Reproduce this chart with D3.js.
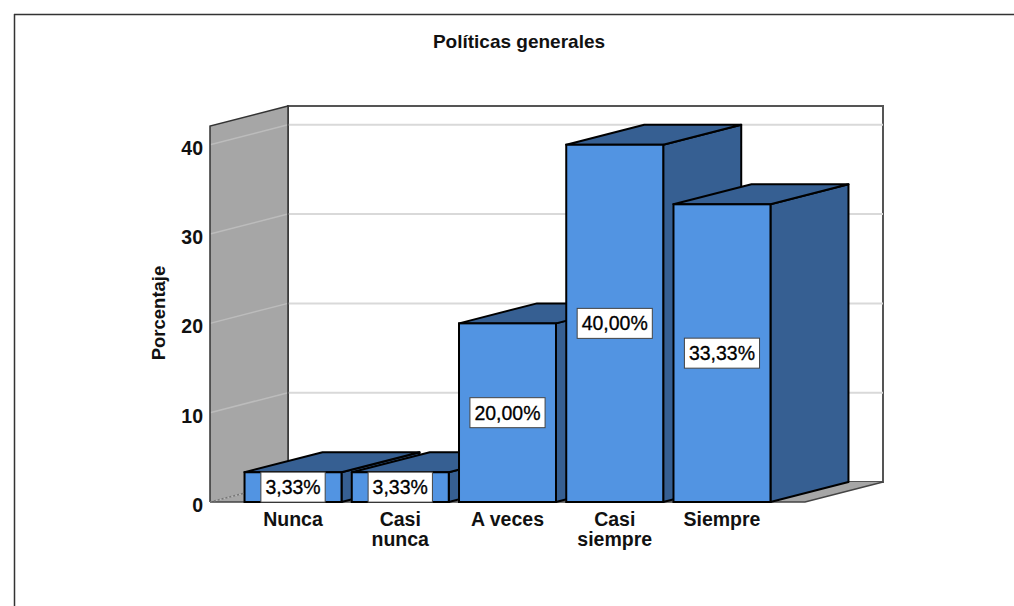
<!DOCTYPE html>
<html>
<head>
<meta charset="utf-8">
<script src="https://cdn.jsdelivr.net/npm/d3@7"></script>
<style>
  html, body { margin: 0; padding: 0; background: #fff; }
  svg { display: block; font-family: "Liberation Sans", Arial, sans-serif; }
</style>
</head>
<body>
<svg id="chart" width="1014" height="606"></svg>
<script>
// Frequencies for "Políticas generales" (percent of respondents)
const categories = ["Nunca", "Casi nunca", "A veces", "Casi siempre", "Siempre"];
const categoryLines = [["Nunca"], ["Casi", "nunca"], ["A veces"], ["Casi", "siempre"], ["Siempre"]];
const percentages = [3.33, 3.33, 20.00, 40.00, 33.33];
const valueLabels = ["3,33%", "3,33%", "20,00%", "40,00%", "33,33%"];
const yTicks = [0, 10, 20, 30, 40];
const chartTitle = "Políticas generales";
const yTitle = "Porcentaje";

const svg = d3.select("#chart");

// Plot geometry: front plane plus an oblique depth offset
const frontLeft = 210, frontRight = 805, baseY = 502, topY = 126;
const depthX = 78, depthY = -20;

const x = d3.scaleBand()
  .domain(categories)
  .range([frontLeft, frontRight])
  .paddingInner(0.0956)
  .paddingOuter(0.322);

const y = d3.scaleLinear()
  .domain([0, 42.1])
  .range([baseY, topY]);

const frontColor = "#5294e2";
const darkColor = "#365f92";
const wallGray = "#a6a6a6";

// Outer frame
svg.append("line").attr("x1", 14).attr("y1", 14.5).attr("x2", 1014).attr("y2", 14.5)
  .attr("stroke", "#333").attr("stroke-width", 1.5);
svg.append("line").attr("x1", 14.5).attr("y1", 14).attr("x2", 14.5).attr("y2", 606)
  .attr("stroke", "#333").attr("stroke-width", 1.5);

// Title
svg.append("text")
  .attr("x", 519).attr("y", 48)
  .attr("text-anchor", "middle")
  .attr("font-size", 19).attr("font-weight", "bold").attr("fill", "#111")
  .text(chartTitle);

const line = d3.line();
const yMax = y.domain()[1];

// Back wall
const bx0 = frontLeft + depthX, bx1 = frontRight + depthX;
svg.append("rect")
  .attr("x", bx0).attr("y", y(yMax) + depthY)
  .attr("width", bx1 - bx0).attr("height", y(0) - y(yMax))
  .attr("fill", "#fff").attr("stroke", "#555").attr("stroke-width", 2);

// Gridlines on the back wall
svg.append("g").selectAll("line")
  .data(yTicks.filter(t => t > 0))
  .join("line")
  .attr("x1", bx0).attr("x2", bx1)
  .attr("y1", d => y(d) + depthY).attr("y2", d => y(d) + depthY)
  .attr("stroke", "#d9d9d9").attr("stroke-width", 2);

// Left wall
const wallPts = [[frontLeft, y(0)], [frontLeft, y(yMax)], [bx0, y(yMax) + depthY], [bx0, y(0) + depthY]];
svg.append("path")
  .attr("d", line(wallPts) + "Z")
  .attr("fill", wallGray).attr("stroke", "none");

// Gridlines on the left wall
svg.append("g").selectAll("line")
  .data(yTicks.filter(t => t > 0))
  .join("line")
  .attr("x1", frontLeft).attr("x2", bx0)
  .attr("y1", d => y(d)).attr("y2", d => y(d) + depthY)
  .attr("stroke", "#bcbcbc").attr("stroke-width", 1.5);

svg.append("path")
  .attr("d", line(wallPts))
  .attr("fill", "none").attr("stroke", "#333").attr("stroke-width", 1.5);

// Floor
svg.append("path")
  .attr("d", line([[frontLeft, y(0)], [bx0, y(0) + depthY], [bx1, y(0) + depthY], [frontRight, y(0)]]) + "Z")
  .attr("fill", wallGray).attr("stroke", "none");
svg.append("path")
  .attr("d", line([[bx1, y(0) + depthY], [frontRight, y(0)], [frontLeft, y(0)]]))
  .attr("fill", "none").attr("stroke", "#444").attr("stroke-width", 1.5);
svg.append("line")
  .attr("x1", frontLeft).attr("y1", y(0)).attr("x2", bx0).attr("y2", y(0) + depthY)
  .attr("stroke", "#777").attr("stroke-width", 1.5).attr("stroke-dasharray", "2,2");

// Y tick labels
svg.append("g").selectAll("text")
  .data(yTicks)
  .join("text")
  .attr("x", 203).attr("y", d => y(d) + 3)
  .attr("dy", "0.36em")
  .attr("text-anchor", "end")
  .attr("font-size", 19.5).attr("font-weight", "bold").attr("fill", "#111")
  .text(d => d);

// Y axis title
svg.append("text")
  .attr("transform", "translate(165,313) rotate(-90)")
  .attr("text-anchor", "middle")
  .attr("font-size", 18.5).attr("font-weight", "bold").attr("fill", "#111")
  .text(yTitle);

// Bars: side, top and front faces, drawn left to right
const bars = svg.append("g");
categories.forEach((c, i) => {
  const x0 = x(c), x1 = x(c) + x.bandwidth();
  const yt = y(percentages[i]), yb = y(0);
  const g = bars.append("g");
  g.append("path")
    .attr("d", line([[x1, yb], [x1, yt], [x1 + depthX, yt + depthY], [x1 + depthX, yb + depthY]]) + "Z")
    .attr("fill", darkColor).attr("stroke", "#000").attr("stroke-width", 2).attr("stroke-linejoin", "round");
  g.append("path")
    .attr("d", line([[x0, yt], [x0 + depthX, yt + depthY], [x1 + depthX, yt + depthY], [x1, yt]]) + "Z")
    .attr("fill", darkColor).attr("stroke", "#000").attr("stroke-width", 2).attr("stroke-linejoin", "round");
  g.append("rect")
    .attr("x", x0).attr("y", yt)
    .attr("width", x1 - x0).attr("height", yb - yt)
    .attr("fill", frontColor).attr("stroke", "#000").attr("stroke-width", 2);
});

// Value labels in boxes centred on each front face
const labels = svg.append("g");
categories.forEach((c, i) => {
  const cx = x(c) + x.bandwidth() / 2;
  const cy = (y(percentages[i]) + y(0)) / 2;
  const g = labels.append("g");
  const box = g.append("rect");
  const t = g.append("text")
    .attr("x", cx).attr("y", cy)
    .attr("dy", "0.36em")
    .attr("text-anchor", "middle")
    .attr("font-size", 19.5).attr("fill", "#000")
    .attr("stroke", "#000").attr("stroke-width", 0.3)
    .text(valueLabels[i]);
  const w = t.node().getComputedTextLength() + 9;
  const h = 30;
  box.attr("x", cx - w / 2).attr("y", cy - h / 2)
    .attr("width", w).attr("height", h)
    .attr("fill", "#fff").attr("stroke", "#444").attr("stroke-width", 1);
});

// Category labels
svg.append("g").selectAll("text")
  .data(categories)
  .join("text")
  .attr("x", d => x(d) + x.bandwidth() / 2)
  .attr("y", 526)
  .attr("text-anchor", "middle")
  .attr("font-size", 19.5).attr("font-weight", "bold").attr("fill", "#111")
  .each(function(d, i) {
    d3.select(this).selectAll("tspan")
      .data(categoryLines[i])
      .join("tspan")
      .attr("x", x(d) + x.bandwidth() / 2)
      .attr("dy", (l, j) => j === 0 ? 0 : 20)
      .text(l => l);
  });
</script>
</body>
</html>
